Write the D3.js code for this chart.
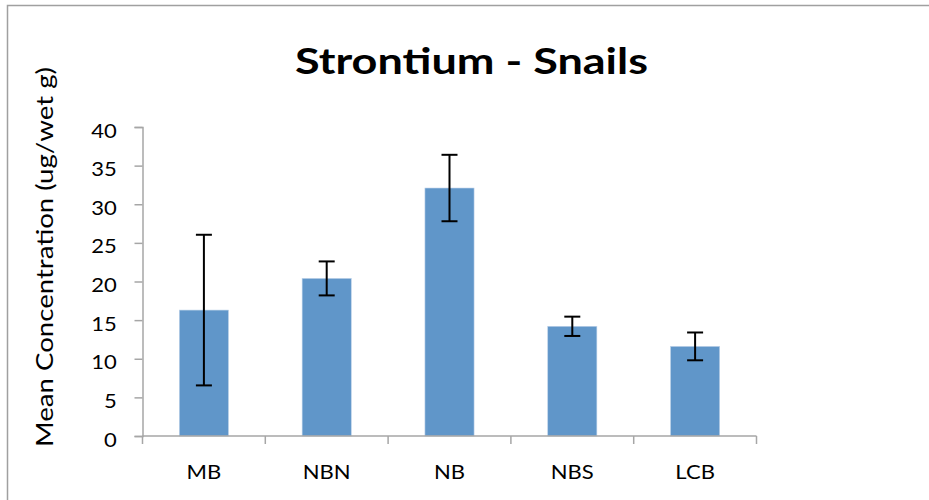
<!DOCTYPE html>
<html>
<head>
<meta charset="utf-8">
<script src="https://cdn.jsdelivr.net/npm/d3@7"></script>
<style>
  body { margin: 0; background: #fff; }
  svg { display: block; }
</style>
</head>
<body>
<script>
'use strict';

// chart data
var sites = ["MB", "NBN", "NB", "NBS", "LCB"];
var means = [16.3, 20.4, 32.1, 14.2, 11.6];
var errors = [9.75, 2.2, 4.3, 1.25, 1.8];
var yTicks = [0, 5, 10, 15, 20, 25, 30, 35, 40];

var width = 929, height = 500;
var plotLeft = 142.5, plotRight = 756.5, plotTop = 127, plotBottom = 436;
var fontFam = "Lato, 'Open Sans', sans-serif";
var stretch = 1.13; // text in the original looks a bit wide

var svg = d3.select("body").append("svg")
   .attr("width", width)
   .attr("height", height);

// outer frame
svg.append("rect")
   .attr("x", 7.5)
   .attr("y", 5.5)
   .attr("width", 940)
   .attr("height", 520)
   .attr("fill", "#fff")
   .attr("stroke", "#a0a0a0")
   .attr("stroke-width", 1.5);

var x = d3.scaleBand()
   .domain(sites)
   .range([plotLeft, plotRight])
   .paddingInner(0.6)
   .paddingOuter(0.3);

var y = d3.scaleLinear()
   .domain([0, 40])
   .range([plotBottom, plotTop]);

// bars
svg.selectAll("rect.bar")
   .data(sites)
   .enter()
   .append("rect")
   .attr("class", "bar")
   .attr("x", function(d){ return x(d); })
   .attr("y", function(d, i){ return y(means[i]); })
   .attr("width", x.bandwidth())
   .attr("height", function(d, i){ return y(0) - y(means[i]); })
   .attr("fill", "#6096c9")
   .attr("stroke", "#bcd1e8")
   .attr("stroke-width", 0.6);

// y axis
var yAxis = svg.append("g")
   .attr("transform", "translate(" + plotLeft + ",0)")
   .call(d3.axisLeft(y).tickValues(yTicks).tickSize(8));
yAxis.select(".domain").attr("stroke", "#a6a6a6").attr("stroke-width", 1.5);
yAxis.selectAll(".tick line").attr("stroke", "#a6a6a6").attr("stroke-width", 1.5);
yAxis.selectAll(".tick text")
   .attr("x", 0)
   .attr("dy", null)
   .attr("transform", "translate(-25.8,10) scale(" + stretch + ",1)")
   .attr("font-family", fontFam)
   .attr("font-size", 19.5)
   .attr("fill", "#000");

// x axis line with category boundary ticks
var band = (plotRight - plotLeft) / sites.length;
var bounds = d3.range(sites.length + 1).map(function(i){ return plotLeft + i * band; });
svg.append("line")
   .attr("x1", plotLeft).attr("x2", plotRight)
   .attr("y1", plotBottom).attr("y2", plotBottom)
   .attr("stroke", "#a6a6a6").attr("stroke-width", 1.5);
svg.selectAll("line.xtick")
   .data(bounds)
   .enter()
   .append("line")
   .attr("class", "xtick")
   .attr("x1", function(d){ return d; }).attr("x2", function(d){ return d; })
   .attr("y1", plotBottom).attr("y2", plotBottom + 8)
   .attr("stroke", "#a6a6a6").attr("stroke-width", 1.5);

svg.selectAll("text.xlab")
   .data(sites)
   .enter()
   .append("text")
   .attr("class", "xlab")
   .attr("transform", function(d){
      return "translate(" + (x(d) + x.bandwidth() / 2) + ",478.5) scale(" + stretch + ",1)";
   })
   .attr("text-anchor", "middle")
   .attr("font-family", fontFam)
   .attr("font-size", 19.5)
   .text(function(d){ return d; });

// error bars
var errG = svg.selectAll("g.err")
   .data(sites)
   .enter()
   .append("g")
   .attr("class", "err")
   .attr("stroke", "#000")
   .attr("stroke-width", 2);
errG.append("line")
   .attr("x1", function(d){ return x(d) + x.bandwidth() / 2; })
   .attr("x2", function(d){ return x(d) + x.bandwidth() / 2; })
   .attr("y1", function(d, i){ return y(means[i] + errors[i]); })
   .attr("y2", function(d, i){ return y(means[i] - errors[i]); });
[1, -1].forEach(function(s){
   errG.append("line")
      .attr("x1", function(d){ return x(d) + x.bandwidth() / 2 - 8; })
      .attr("x2", function(d){ return x(d) + x.bandwidth() / 2 + 8; })
      .attr("y1", function(d, i){ return y(means[i] + s * errors[i]); })
      .attr("y2", function(d, i){ return y(means[i] + s * errors[i]); });
});

// title
svg.append("text")
   .attr("x", 471.5)
   .attr("y", 74)
   .attr("text-anchor", "middle")
   .attr("font-family", fontFam)
   .attr("font-weight", "bold")
   .attr("font-size", 36.5)
   .attr("textLength", 353)
   .attr("lengthAdjust", "spacingAndGlyphs")
   .text("Strontium - Snails");

// y axis title
svg.append("text")
   .attr("transform", "translate(53,257) rotate(-90)")
   .attr("text-anchor", "middle")
   .attr("font-family", fontFam)
   .attr("font-size", 23)
   .attr("textLength", 380)
   .attr("lengthAdjust", "spacingAndGlyphs")
   .text("Mean Concentration (ug/wet g)");
</script>
</body>
</html>
